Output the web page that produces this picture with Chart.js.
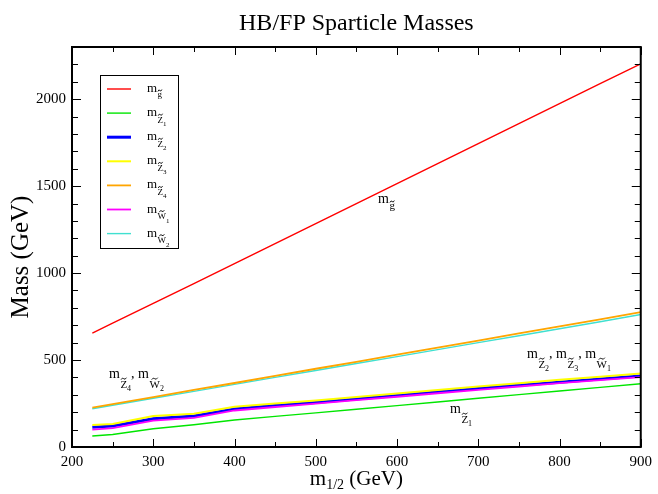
<!DOCTYPE html>
<html>
<head>
<meta charset="utf-8">
<script src="https://cdn.jsdelivr.net/npm/chart.js@4.4.0/dist/chart.umd.min.js"></script>
<style>
html,body{margin:0;padding:0;background:#fff;}
</style>
</head>
<body>
<canvas id="massChart" width="658" height="494"></canvas>
<script>
// m_1/2 values (GeV)
const m12=[225,250,300,350,400,450,500,550,600,650,700,750,800,850,900];
// sparticle masses (GeV)
const mGluino=[655,712,826,940,1055,1170,1285,1400,1515,1630,1745,1860,1975,2090,2203];
const mZ1=[63,72,105,128,155,176,196,217,238,259,280,301,322,343,364];
const mZ2=[113,121,163,178,218,238,256,276,296,316,336,355,373,391,408];
const mZ3=[126,132,178,191,232,250,268,288,308,328,348,367,386,404,422];
const mZ4=[226,246,287,328,368,409,450,490,531,572,612,653,694,734,775];
const mW1=[100,109,152,168,210,230,249,269,289,309,329,348,367,385,402];
const mW2=[220,240,280,320,360,400,440,480,520,560,600,640,680,720,762];

const xTicks=[200,300,400,500,600,700,800,900];
const yTicks=[0,500,1000,1500,2000];

const serif='"Liberation Serif","Times New Roman",serif';

function pts(arr){
    return m12.map((x,i)=>({x:x,y:arr[i]}));
}

// legend rows: symbol, subscript number, colour, width
const legendRows=[
    {sym:'g',num:'',color:'#ff0000',w:1.4,data:mGluino},
    {sym:'Z',num:'1',color:'#00e600',w:1.4,data:mZ1},
    {sym:'Z',num:'2',color:'#0000ff',w:3,data:mZ2},
    {sym:'Z',num:'3',color:'#ffff00',w:2,data:mZ3},
    {sym:'Z',num:'4',color:'#ffa500',w:1.8,data:mZ4},
    {sym:'W',num:'1',color:'#ff00ff',w:1.8,data:mW1},
    {sym:'W',num:'2',color:'#40e0d0',w:1.4,data:mW2}
];

function drawTilde(ctx,cx,ty,tw){
    ctx.beginPath();
    ctx.moveTo(cx-tw/2,ty+1);
    ctx.quadraticCurveTo(cx-tw/4,ty-1.6,cx,ty);
    ctx.quadraticCurveTo(cx+tw/4,ty+1.6,cx+tw/2,ty-1);
    ctx.lineWidth=0.9;
    ctx.strokeStyle='#000';
    ctx.stroke();
}

// draws m with a tilded subscript, returns the x where it ends
function drawMass(ctx,x,y,sym,num,f){
    ctx.font=f.m+'px '+serif;
    ctx.fillText('m',x,y);
    x+=ctx.measureText('m').width+0.5;
    ctx.font=f.s+'px '+serif;
    const sy=y+(sym==='g'?f.dg:f.dy);
    ctx.fillText(sym,x,sy);
    const w=ctx.measureText(sym).width;
    const ty=sym==='g'?sy-f.s*0.5-2:sy-f.s*0.72-1.4;
    drawTilde(ctx,x+w/2,ty,Math.max(4,Math.min(w*0.8,f.s*0.55)));
    x+=w;
    if(num){
        ctx.font=f.n+'px '+serif;
        ctx.fillText(num,x,y+f.dn);
        x+=ctx.measureText(num).width;
    }
    return x;
}

function drawMassList(ctx,x,y,items,f){
    items.forEach((it,i)=>{
        x=drawMass(ctx,x,y,it[0],it[1],f);
        if(i<items.length-1){
            ctx.font=f.m+'px '+serif;
            ctx.fillText(', ',x,y);
            x+=ctx.measureText(', ').width;
        }
    });
}

const annotFont={m:14,s:11,n:8,dy:10,dg:6,dn:13};
const legFont={m:13,s:9,n:7,dy:6.5,dg:5,dn:10};

const decor={
    id:'decor',
    afterDraw(chart){
        const ctx=chart.ctx;
        const a=chart.chartArea;
        const xs=chart.scales.x, ys=chart.scales.y;
        ctx.save();
        // frame
        ctx.strokeStyle='#000';
        ctx.lineWidth=2;
        ctx.strokeRect(a.left,a.top,a.right-a.left,a.bottom-a.top);
        // ticks, all four sides, pointing inward
        ctx.lineWidth=1;
        ctx.beginPath();
        for(let v=xs.min;v<=xs.max;v+=50){
            const px=Math.round(xs.getPixelForValue(v))+0.5;
            const len=v%100===0?8:5;
            ctx.moveTo(px,a.bottom);ctx.lineTo(px,a.bottom-len);
            ctx.moveTo(px,a.top);ctx.lineTo(px,a.top+len);
        }
        for(let v=ys.min;v<=ys.max;v+=100){
            const py=Math.round(ys.getPixelForValue(v))+0.5;
            const len=v%500===0?9:6;
            ctx.moveTo(a.left,py);ctx.lineTo(a.left+len,py);
            ctx.moveTo(a.right,py);ctx.lineTo(a.right-len,py);
        }
        ctx.stroke();

        ctx.fillStyle='#000';
        ctx.textBaseline='alphabetic';
        // title
        ctx.font='24px '+serif;
        ctx.textAlign='center';
        ctx.fillText('HB/FP Sparticle Masses',(a.left+a.right)/2,30);
        // y title
        ctx.save();
        ctx.translate(28,257);
        ctx.rotate(-Math.PI/2);
        ctx.font='25px '+serif;
        ctx.fillText('Mass (GeV)',0,0);
        ctx.restore();
        // x title m_{1/2} (GeV)
        ctx.textAlign='left';
        ctx.font='21px '+serif;
        const wm=ctx.measureText('m').width;
        const wr=ctx.measureText(' (GeV)').width;
        ctx.font='14px '+serif;
        const ws=ctx.measureText('1/2').width;
        let tx=(a.left+a.right)/2-(wm+ws+wr)/2;
        ctx.font='21px '+serif;
        ctx.fillText('m',tx,485);
        tx+=wm;
        ctx.font='14px '+serif;
        ctx.fillText('1/2',tx,489);
        tx+=ws;
        ctx.font='21px '+serif;
        ctx.fillText(' (GeV)',tx,485);

        // annotations in the plot
        drawMassList(ctx,378,203,[['g','']],annotFont);
        drawMassList(ctx,109,378,[['Z','4'],['W','2']],annotFont);
        drawMassList(ctx,527,358,[['Z','2'],['Z','3'],['W','1']],annotFont);
        drawMassList(ctx,450,413,[['Z','1']],annotFont);

        // legend box
        ctx.fillStyle='#fff';
        ctx.fillRect(100,75,78,173);
        ctx.lineWidth=1;
        ctx.strokeStyle='#000';
        ctx.strokeRect(100.5,75.5,78,173);
        legendRows.forEach((r,i)=>{
            const ly=89+i*24.1;
            ctx.beginPath();
            ctx.moveTo(107,ly);ctx.lineTo(131,ly);
            ctx.strokeStyle=r.color;
            ctx.lineWidth=r.w;
            ctx.stroke();
            ctx.fillStyle='#000';
            drawMass(ctx,147,ly+3,r.sym,r.num,legFont);
        });
        ctx.restore();
    }
};

new Chart(document.getElementById('massChart'),{
    type:'line',
    data:{
        datasets:legendRows.map((r,i)=>({
            data:pts(r.data),
            borderColor:r.color,
            borderWidth:r.w,
            pointRadius:0,
            tension:0,
            fill:false,
            order:i===2?5:(i===3?4:0)
        }))
    },
    options:{
        responsive:false,
        animation:false,
        layout:{padding:{top:47,right:14,left:0,bottom:0}},
        plugins:{legend:{display:false},tooltip:{enabled:false}},
        scales:{
            x:{
                type:'linear',min:200,max:900,
                grid:{display:false,drawTicks:false},
                border:{display:false},
                afterFit(s){s.height=47;},
                afterBuildTicks(s){s.ticks=xTicks.map(v=>({value:v}));},
                ticks:{color:'#000',padding:6,font:{family:serif,size:15},maxRotation:0,callback:v=>String(v)}
            },
            y:{
                type:'linear',min:0,max:2300,
                grid:{display:false,drawTicks:false},
                border:{display:false},
                afterFit(s){s.width=72;},
                afterBuildTicks(s){s.ticks=yTicks.map(v=>({value:v}));},
                ticks:{color:'#000',padding:6,font:{family:serif,size:15},callback:v=>String(v)}
            }
        }
    },
    plugins:[decor]
});
</script>
</body>
</html>
